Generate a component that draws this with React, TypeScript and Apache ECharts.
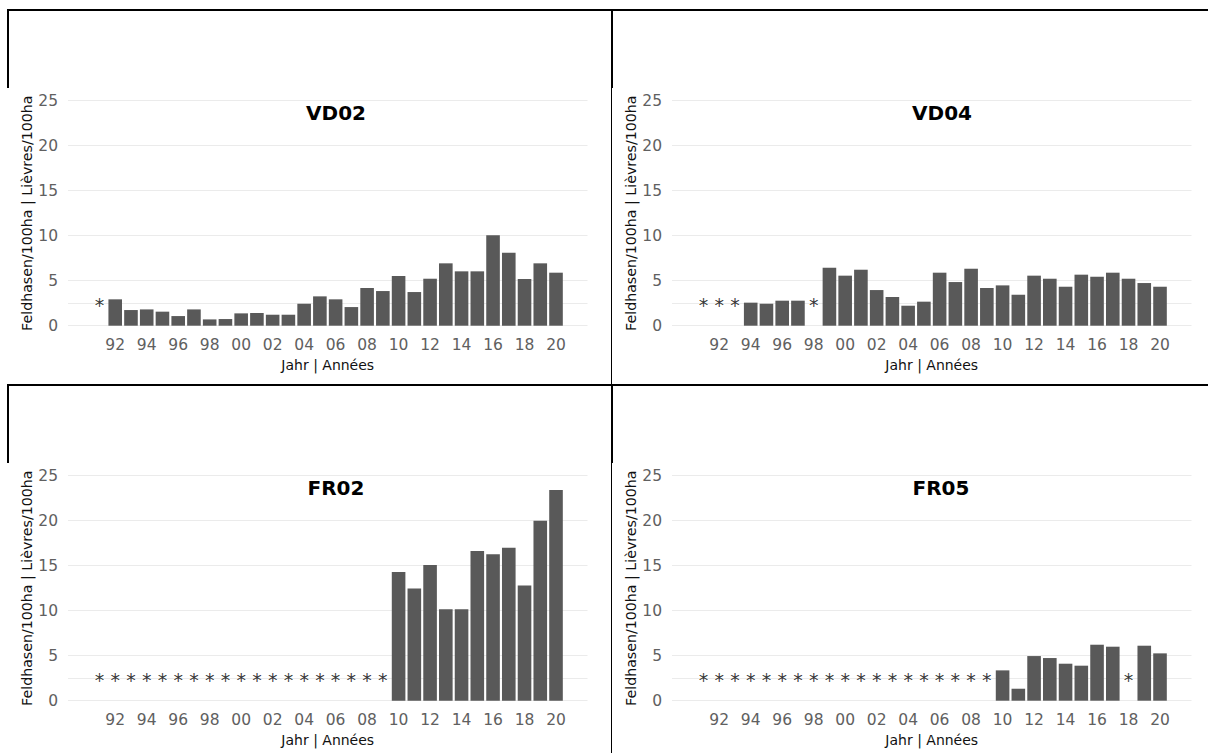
import React, { useEffect, useRef } from "react";
import * as echarts from "echarts";

const FONT = "DejaVu Sans";

const years = [1991, 1992, 1993, 1994, 1995, 1996, 1997, 1998, 1999, 2000, 2001, 2002, 2003, 2004, 2005, 2006, 2007, 2008, 2009, 2010, 2011, 2012, 2013, 2014, 2015, 2016, 2017, 2018, 2019, 2020];

const xTickYears = [1992, 1994, 1996, 1998, 2000, 2002, 2004, 2006, 2008, 2010, 2012, 2014, 2016, 2018, 2020];
const yTicks = [0, 5, 10, 15, 20, 25];

const vd02 = [null, 2.93, 1.74, 1.81, 1.56, 1.07, 1.81, 0.7, 0.74, 1.37, 1.41, 1.22, 1.22, 2.44, 3.26, 2.93, 2.07, 4.19, 3.85, 5.52, 3.74, 5.22, 6.93, 6.04, 6.04, 10.04, 8.11, 5.19, 6.93, 5.89];
const vd04 = [null, null, null, 2.56, 2.44, 2.78, 2.78, null, 6.44, 5.56, 6.22, 3.96, 3.19, 2.22, 2.67, 5.89, 4.85, 6.33, 4.19, 4.48, 3.44, 5.56, 5.22, 4.33, 5.67, 5.44, 5.89, 5.22, 4.74, 4.33];
const fr02 = [null, null, null, null, null, null, null, null, null, null, null, null, null, null, null, null, null, null, null, 14.3, 12.48, 15.07, 10.15, 10.15, 16.63, 16.26, 17.0, 12.81, 20.0, 23.41];
const fr05 = [null, null, null, null, null, null, null, null, null, null, null, null, null, null, null, null, null, null, null, 3.37, 1.33, 4.96, 4.74, 4.11, 3.89, 6.22, 6.0, null, 6.11, 5.26];

const panelNames = ["VD02", "VD04", "FR02", "FR05"];
const panelValues = [vd02, vd04, fr02, fr05];

const STAR_LEVEL = 2.5;
const Y_TITLE = "Feldhasen/100ha | Lièvres/100ha";
const X_TITLE = "Jahr | Années";

// layout (pixels)
const layout = [
  { left: 68, top: 100.7, titleX: 336, titleY: 113.3 },
  { left: 672, top: 100.7, titleX: 942, titleY: 113.3 },
  { left: 68, top: 475.7, titleX: 336, titleY: 488.3 },
  { left: 672, top: 475.7, titleX: 941, titleY: 488.3 },
];
const GRID_W = 519.5;
const GRID_H = 225;

function buildOption() {
  const grid: any[] = [];
  const xAxis: any[] = [];
  const yAxis: any[] = [];
  const series: any[] = [];
  const title: any[] = [];

  panelNames.forEach((name, i) => {
    const L = layout[i];
    const vals = panelValues[i];
    grid.push({ left: L.left, top: L.top, width: GRID_W, height: GRID_H });
    title.push({
      text: name,
      left: L.titleX,
      top: L.titleY,
      textAlign: "center",
      textVerticalAlign: "middle",
      padding: 0,
      textStyle: { fontFamily: FONT, fontWeight: "bold", fontSize: 20, color: "#000" },
    });
    xAxis.push({
      type: "value",
      gridIndex: i,
      min: 1989,
      max: 2022,
      interval: 1,
      axisLine: { show: false },
      axisTick: { show: false },
      splitLine: { show: false },
      axisLabel: {
        margin: 11,
        fontFamily: FONT,
        fontSize: 15.5,
        color: "#606060",
        formatter: (v: number) => (xTickYears.indexOf(v) >= 0 ? String(v % 100).padStart(2, "0") : ""),
      },
      name: X_TITLE,
      nameLocation: "middle",
      nameGap: 32,
      nameTextStyle: { fontFamily: FONT, fontSize: 14, color: "#111" },
    });
    yAxis.push({
      type: "value",
      gridIndex: i,
      min: yTicks[0],
      max: yTicks[yTicks.length - 1],
      interval: 5,
      axisLine: { show: false },
      axisTick: { show: false },
      splitLine: { show: true, lineStyle: { color: "#ebebeb", width: 1 } },
      axisLabel: { margin: 10, fontFamily: FONT, fontSize: 15.5, color: "#606060" },
      name: Y_TITLE,
      nameLocation: "middle",
      nameRotate: 90,
      nameGap: 33,
      nameTextStyle: { fontFamily: FONT, fontSize: 14.2, color: "#111" },
    });
    series.push({
      type: "bar",
      name: name,
      xAxisIndex: i,
      yAxisIndex: i,
      barWidth: 13.6,
      z: 3,
      silent: true,
      itemStyle: { color: "#595959" },
      data: years.map((y, k) => (vals[k] == null ? null : [y, vals[k]])).filter((d) => d !== null),
    });
    series.push({
      type: "scatter",
      name: name + " *",
      xAxisIndex: i,
      yAxisIndex: i,
      z: 1,
      silent: true,
      symbolSize: 1,
      itemStyle: { color: "rgba(0,0,0,0)" },
      label: {
        show: true,
        position: "inside",
        offset: [0, 2],
        formatter: "*",
        fontFamily: FONT,
        fontSize: 19,
        color: "#000",
      },
      data: years.filter((y, k) => vals[k] == null).map((y) => [y, STAR_LEVEL]),
      markLine: {
        silent: true,
        z: 1,
        symbol: "none",
        label: { show: false },
        lineStyle: { color: "#ebebeb", type: "solid", width: 1 },
        data: [{ yAxis: STAR_LEVEL }],
      },
    });
  });

  const line = (x1: number, y1: number, x2: number, y2: number, w: number) => ({
    type: "line",
    silent: true,
    z: 100,
    shape: { x1, y1, x2, y2 },
    style: { stroke: "#000", lineWidth: w },
  });

  const graphic = [
    line(7, 10, 1208, 10, 2),
    line(8, 9, 8, 88, 2),
    line(8, 384, 8, 463, 2),
    line(7, 385, 1208, 385, 2),
    line(612, 9, 612, 88, 2),
    line(612, 384, 612, 463, 2),
    line(611.5, 9, 611.5, 753, 1),
  ];

  return {
    animation: false,
    backgroundColor: "#fff",
    title,
    grid,
    xAxis,
    yAxis,
    series,
    graphic,
  };
}

export default function App() {
  const ref = useRef<HTMLDivElement>(null);
  useEffect(() => {
    if (!ref.current) return;
    const chart = echarts.init(ref.current, null, { renderer: "svg" });
    chart.setOption(buildOption() as any);
    return () => chart.dispose();
  }, []);
  return (
    <div
      ref={ref}
      style={{ position: "fixed", left: 0, top: 0, width: 1208, height: 753, background: "#fff" }}
    />
  );
}
